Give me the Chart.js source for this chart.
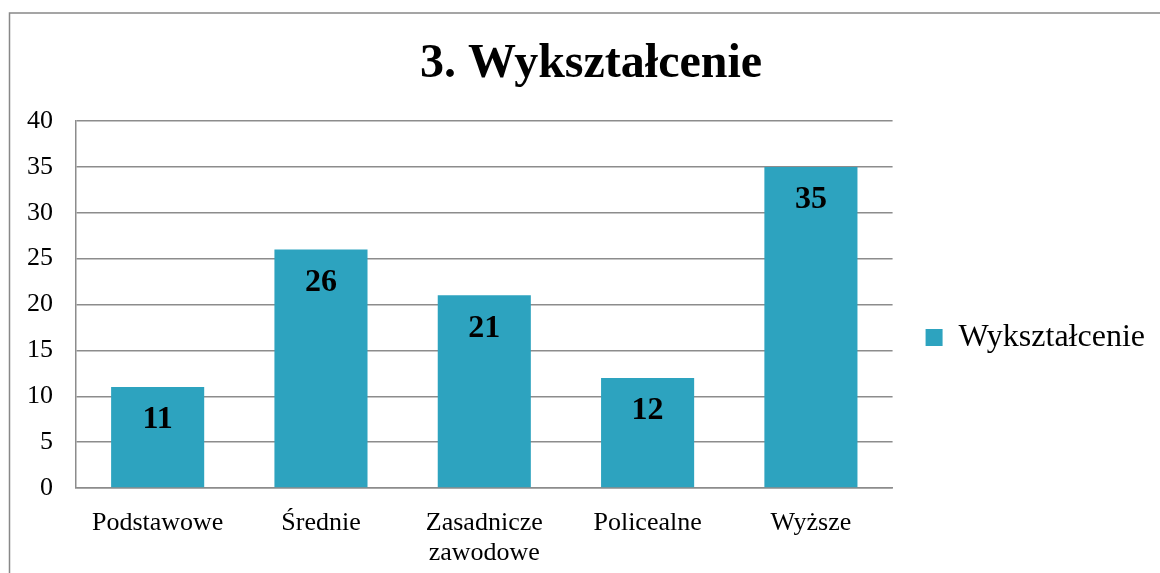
<!DOCTYPE html>
<html>
<head>
<meta charset="utf-8">
<script src="https://cdn.jsdelivr.net/npm/chart.js@4/dist/chart.umd.min.js"></script>
<style>
  html, body { margin: 0; padding: 0; background: #fff; }
  #wrap { width: 1160px; height: 573px; }
</style>
</head>
<body>
<div id="wrap"><canvas id="c" width="1160" height="573"></canvas></div>
<script>
const chartTitle = '3. Wykształcenie';
const seriesName = 'Wykształcenie';
const categories = ['Podstawowe', 'Średnie', ['Zasadnicze', 'zawodowe'], 'Policealne', 'Wyższe'];
const values = [11, 26, 21, 12, 35];
const yTicks = [0, 5, 10, 15, 20, 25, 30, 35, 40];

const FONT = "'Liberation Serif', 'Times New Roman', serif";
const GRID = '#8c8c8c';
const BAR = '#2DA3BF';

const frame = {
  id: 'frame',
  beforeDraw(chart) {
    const ctx = chart.ctx;
    ctx.save();
    ctx.fillStyle = '#fff';
    ctx.fillRect(0, 0, chart.width, chart.height);
    ctx.strokeStyle = '#888888';
    ctx.lineWidth = 1.5;
    ctx.strokeRect(9.5, 13, 2000, 2000);
    ctx.restore();
  }
};

const titleText = {
  id: 'titleText',
  afterDraw(chart) {
    const ctx = chart.ctx;
    ctx.save();
    ctx.font = 'bold 48px ' + FONT;
    ctx.fillStyle = '#000';
    ctx.textAlign = 'center';
    ctx.textBaseline = 'middle';
    ctx.fillText(chartTitle, 591, 65);
    ctx.restore();
  }
};

const valueLabels = {
  id: 'valueLabels',
  afterDatasetsDraw(chart) {
    const ctx = chart.ctx;
    const meta = chart.getDatasetMeta(0);
    ctx.save();
    ctx.font = 'bold 32px ' + FONT;
    ctx.fillStyle = '#000';
    ctx.textAlign = 'center';
    ctx.textBaseline = 'middle';
    meta.data.forEach((bar, i) => {
      ctx.fillText(String(chart.data.datasets[0].data[i]), bar.x, bar.y + 33);
    });
    ctx.restore();
  }
};

new Chart(document.getElementById('c'), {
  type: 'bar',
  data: {
    labels: categories,
    datasets: [{
      label: seriesName,
      data: values,
      backgroundColor: BAR,
      borderWidth: 0,
      barPercentage: 0.57,
      categoryPercentage: 1.0
    }]
  },
  options: {
    responsive: false,
    animation: false,
    devicePixelRatio: 1,
    layout: { padding: { left: 10, right: 5, top: 121, bottom: 0 } },
    plugins: {
      title: { display: false },
      legend: {
        position: 'right',
        align: 'start',
        title: { display: true, text: ' ', font: { size: 10, lineHeight: 1.2 }, padding: { top: 77.75, bottom: 77.75 } },
        labels: {
          boxWidth: 17,
          boxHeight: 17,
          padding: 33,
          color: '#000',
          font: { family: FONT, size: 32 }
        }
      },
      tooltip: { enabled: false }
    },
    scales: {
      x: {
        grid: { display: false, drawTicks: false },
        border: { display: true, color: GRID, width: 1.5 },
        ticks: {
          color: '#000',
          font: { family: FONT, size: 26, lineHeight: 1.15 },
          padding: 20,
          maxRotation: 0,
          autoSkip: false
        },
        afterFit(scale) { scale.height = 85; }
      },
      y: {
        min: 0,
        max: 40,
        afterBuildTicks(scale) { scale.ticks = yTicks.map(v => ({ value: v })); },
        grid: { color: GRID, lineWidth: 1.5, drawTicks: false },
        border: { display: true, color: GRID, width: 1.5 },
        ticks: {
          color: '#000',
          font: { family: FONT, size: 26 },
          padding: 23
        },
        afterFit(scale) { scale.width = 66; }
      }
    }
  },
  plugins: [frame, titleText, valueLabels]
});
</script>
</body>
</html>
